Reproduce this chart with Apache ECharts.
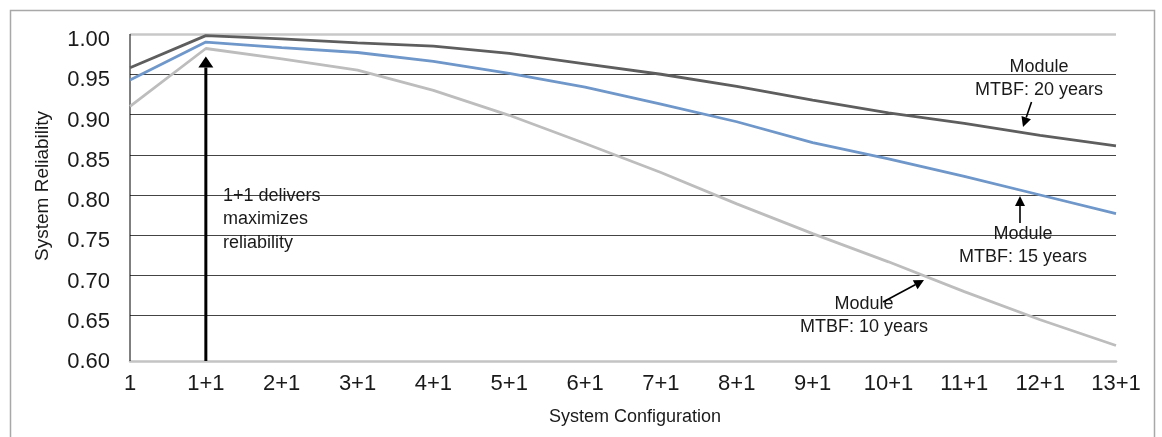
<!DOCTYPE html>
<html><head><meta charset="utf-8">
<script src="https://cdn.jsdelivr.net/npm/echarts@6/dist/echarts.min.js"></script>
<style>html,body{margin:0;padding:0;background:#fff}#c{width:1162px;height:437px}</style>
</head><body><div id="c"></div>
<script>
// ---- data ----
const categories = ['1','1+1','2+1','3+1','4+1','5+1','6+1','7+1','8+1','9+1','10+1','11+1','12+1','13+1'];
const mtbf20 = [0.958, 0.998, 0.994, 0.989, 0.985, 0.976, 0.963, 0.950, 0.935, 0.918, 0.902, 0.889, 0.874, 0.861];
const mtbf15 = [0.943, 0.990, 0.983, 0.977, 0.966, 0.951, 0.934, 0.913, 0.891, 0.865, 0.845, 0.823, 0.800, 0.777];
const mtbf10 = [0.910, 0.982, 0.969, 0.955, 0.930, 0.899, 0.864, 0.828, 0.789, 0.752, 0.717, 0.680, 0.645, 0.613];
const yMin = 0.60, yMax = 1.00, yStep = 0.05;
const arrowTipValue = 0.972; // tip of the 1+1 arrow

const FONT = '"Liberation Sans", Arial, sans-serif';
const chart = echarts.init(document.getElementById('c'), null, {renderer: 'canvas'});

function arrow(x1, y1, x2, y2, w, hl, hw) {
  const a = Math.atan2(y2 - y1, x2 - x1);
  const bx = x2 - hl * Math.cos(a), by = y2 - hl * Math.sin(a);
  const px = -Math.sin(a) * hw / 2, py = Math.cos(a) * hw / 2;
  return [
    {type: 'line', z: 50, shape: {x1, y1, x2: bx, y2: by}, style: {stroke: '#000', lineWidth: w}},
    {type: 'polygon', z: 50, shape: {points: [[x2, y2], [bx + px, by + py], [bx - px, by - py]]}, style: {fill: '#000'}}
  ];
}
function label(x, y, text, align) {
  return {type: 'text', z: 50, x, y, style: {text, font: '18px ' + FONT, fill: '#1a1a1a',
    align: align || 'center', verticalAlign: 'top', lineHeight: 23.5}};
}

const lineSeries = (name, data, color) => ({
  name, type: 'line', data, symbol: 'none', smooth: false,
  lineStyle: {color, width: 2.8}, itemStyle: {color}, z: 5
});

const splitColors = ['rgba(0,0,0,0)', '#444', '#444', '#444', '#444', '#444', '#444', '#444', '#c8c8c8'];

chart.setOption({
  animation: false,
  grid: {left: 130, right: 46, top: 34, bottom: 81, containLabel: false},
  xAxis: {
    type: 'category', data: categories, boundaryGap: false, offset: 5,
    axisLine: {show: true, lineStyle: {color: '#c4c4c4', width: 2.5}},
    axisTick: {show: false},
    axisLabel: {color: '#1a1a1a', fontFamily: FONT, fontSize: 22, margin: 12, interval: 0},
    splitLine: {show: false},
    name: 'System Configuration', nameLocation: 'middle', nameGap: 47,
    nameTextStyle: {color: '#1a1a1a', fontFamily: FONT, fontSize: 18, padding: [0, 0, 0, 24]}
  },
  yAxis: {
    type: 'value', min: yMin, max: yMax, interval: yStep,
    axisLine: {show: false},
    axisTick: {show: false},
    axisLabel: {color: '#1a1a1a', fontFamily: FONT, fontSize: 22, margin: 20,
      verticalAlign: 'top', lineHeight: 12, formatter: v => v.toFixed(2)},
    splitLine: {show: true, lineStyle: {color: splitColors, width: 1}},
    name: 'System Reliability', nameLocation: 'middle', nameGap: 78,
    nameTextStyle: {color: '#1a1a1a', fontFamily: FONT, fontSize: 19, padding: [0, 0, 0, 18]}
  },
  series: [
    Object.assign(lineSeries('Module MTBF: 10 years', mtbf10, '#bdbdbd'), {
      markLine: {silent: true, symbol: 'none', label: {show: false},
        lineStyle: {color: '#c8c8c8', width: 2.5, type: 'solid'}, data: [{yAxis: yMax}], z: 1}
    }),
    lineSeries('Module MTBF: 15 years', mtbf15, '#6f97c9'),
    lineSeries('Module MTBF: 20 years', mtbf20, '#5e5e5e')
  ]
});

// annotations anchored with the chart's own scales
const pTop = chart.convertToPixel({gridIndex: 0}, ['1+1', arrowTipValue]);
const pBot = chart.convertToPixel({gridIndex: 0}, ['1+1', yMin]);
const pL0 = chart.convertToPixel({gridIndex: 0}, ['1', yMin]);
const pL1 = chart.convertToPixel({gridIndex: 0}, ['1', yMax]);

chart.setOption({
  graphic: [].concat(
    [{type: 'rect', z: 0, shape: {x: 10.5, y: 10.5, width: 1144, height: 450},
      style: {fill: 'none', stroke: '#a8a8a8', lineWidth: 1.5}}],
    [{type: 'line', z: 4, shape: {x1: pL0[0], y1: pL1[1], x2: pL0[0], y2: pL0[1] + 5},
      style: {stroke: '#000', lineWidth: 1}}],
    arrow(pBot[0], pBot[1] + 5, pTop[0], pTop[1], 3, 11, 15),
    [label(223, 184, '1+1 delivers\nmaximizes\nreliability', 'left')],
    [label(1039, 55, 'Module\nMTBF: 20 years')],
    arrow(1031.5, 102, 1023, 127, 1.6, 10, 10),
    [label(1023, 222, 'Module\nMTBF: 15 years')],
    arrow(1020, 223, 1020, 196, 1.6, 10, 10),
    [label(864, 292, 'Module\nMTBF: 10 years')],
    arrow(883, 302, 924, 280, 1.6, 10, 10)
  )
});
</script>
</body></html>
